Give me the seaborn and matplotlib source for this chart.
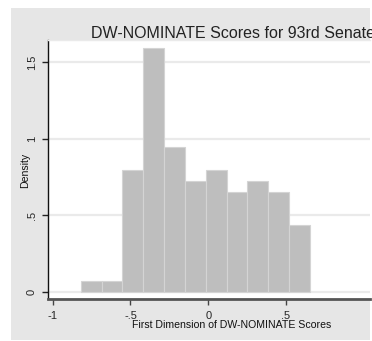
import numpy as np
import matplotlib
matplotlib.use("Agg")
import matplotlib.pyplot as plt
import seaborn as sns

# histogram (bin edges and senator counts per bin)
bin_edges = [-0.820, -0.686, -0.552, -0.418, -0.284, -0.150, -0.016,
             0.118, 0.252, 0.386, 0.520, 0.654]
counts = [1, 1, 11, 22, 13, 10, 11, 9, 10, 9, 6]

x_ticks = [-1, -0.5, 0, 0.5]
x_labels = ["-1", "-.5", "0", ".5"]
y_ticks = [0, 0.5, 1, 1.5]
y_labels = ["0", ".5", "1", "1.5"]

sns.set_style("white")
plt.rcParams["font.family"] = ["Liberation Sans", "DejaVu Sans"]

W, H = 372, 341
fig = plt.figure(figsize=(W / 100, H / 100), dpi=100, facecolor="white")

# grey graph region
fig.patches.append(plt.Rectangle((11 / W, 1 - 340 / H), 359 / W, 332 / H,
                                 transform=fig.transFigure, facecolor="#e6e6e6",
                                 edgecolor="none", zorder=-5))

ax = fig.add_axes([48 / W, 1 - 298.5 / H, 322 / W, 258.5 / H])
ax.set_zorder(1)
ax.set_facecolor("white")

mids = (np.array(bin_edges[:-1]) + np.array(bin_edges[1:])) / 2
sns.histplot(x=mids, weights=counts, bins=bin_edges, stat="density",
             color="#bebebe", edgecolor="#d4d4d4", linewidth=0.8, alpha=1,
             ax=ax, zorder=3)

ax.set_xlim(-1.03, 1.04)
ax.set_ylim(-0.044, 1.643)

for yv in y_ticks:
    ax.axhline(yv, color="#eaeaea", lw=1.6, zorder=1)

ax.set_xticks(x_ticks)
ax.set_xticklabels(x_labels)
ax.set_yticks(y_ticks)
ax.set_yticklabels(y_labels, rotation=90, va="center")
ax.tick_params(axis="x", direction="out", length=4, width=1, color="#444444",
               labelsize=8, pad=5, bottom=True)
ax.tick_params(axis="y", direction="out", length=4, width=1, color="#222222",
               labelsize=8, pad=4, left=True)
ax.set_xlabel("")
ax.set_ylabel("")

ax.spines["top"].set_color("#eaeaea")
ax.spines["top"].set_linewidth(1)
ax.spines["right"].set_visible(False)
ax.spines["left"].set_color("#111111")
ax.spines["left"].set_linewidth(1)
ax.spines["bottom"].set_color("#555555")
ax.spines["bottom"].set_linewidth(2)

fig.text(91 / W, 1 - 37.7 / H, "DW-NOMINATE Scores for 93rd Senate",
         ha="left", va="baseline", fontsize=11.5, color="#222222")
fig.text(132 / W, 1 - 328.5 / H, "First Dimension of DW-NOMINATE Scores",
         ha="left", va="baseline", fontsize=7.6, color="#111111")
fig.text(25 / W, 1 - 170 / H, "Density", rotation=90, ha="center", va="center",
         fontsize=7.6, color="#111111")

fig.savefig("out.png", dpi=100, facecolor="white")
